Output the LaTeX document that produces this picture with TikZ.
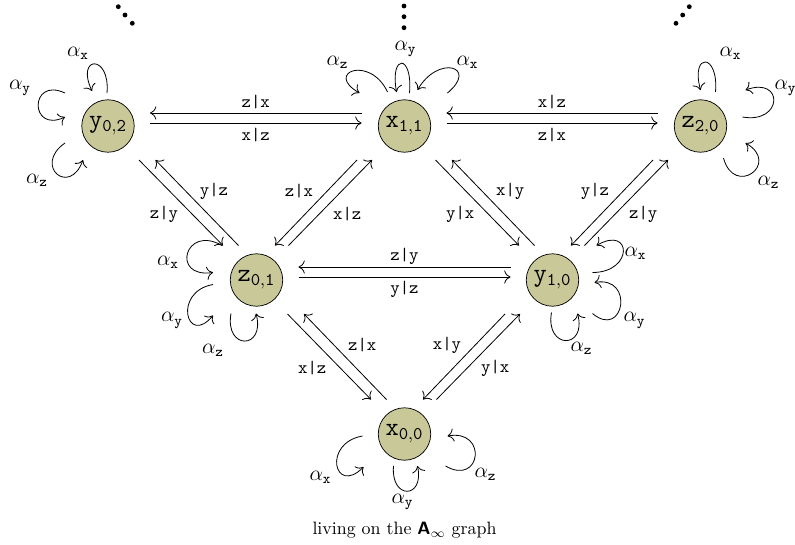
\documentclass[tikz,border=0pt]{standalone}
\usetikzlibrary{calc,arrows.meta}
\definecolor{nodefill}{RGB}{200,200,152}
\tikzset{
  vert/.style={circle, draw, fill=nodefill, minimum size=29.3pt, inner sep=0pt, font=\Large},
  arr/.style={-{To[scale=1.35]}, line width=0.45pt},
  lbl/.style={inner sep=0pt},
  alab/.style={inner sep=0pt, font=\large},
  dotmark/.style={fill=black},
}
\begin{document}
\begin{tikzpicture}[x=0.5587pt,y=0.5587pt]
\path[use as bounding box] (0,0) rectangle (795,-544);

% vertices
\node[vert] (y02) at (108,-126)   {$\mathtt{y}_{\mathtt{0,2}}$};
\node[vert] (x11) at (404.5,-126) {$\mathtt{x}_{\mathtt{1,1}}$};
\node[vert] (z20) at (700.5,-126) {$\mathtt{z}_{\mathtt{2,0}}$};
\node[vert] (z01) at (256.5,-280) {$\mathtt{z}_{\mathtt{0,1}}$};
\node[vert] (y10) at (552.5,-280) {$\mathtt{y}_{\mathtt{1,0}}$};
\node[vert] (x00) at (404.5,-434) {$\mathtt{x}_{\mathtt{0,0}}$};

% dots
\fill[dotmark] (118.3,-6.7) circle[radius=1.35pt] (125,-15) circle[radius=1.35pt] (132.3,-23.3) circle[radius=1.35pt];
\fill[dotmark] (404,-6) circle[radius=1.35pt] (404,-16.7) circle[radius=1.35pt] (404,-27.7) circle[radius=1.35pt];
\fill[dotmark] (689.3,-6.7) circle[radius=1.35pt] (682.7,-15) circle[radius=1.35pt] (676,-23.3) circle[radius=1.35pt];

% horizontal connectors
\draw[arr] ($(x11)+(-43,13)$) -- node[lbl,shift={(0,11)}]{\texttt{z|x}} ($(y02)+(42,13)$);
\draw[arr] ($(y02)+(42,3)$) -- node[lbl,shift={(0,-12)}]{\texttt{x|z}} ($(x11)+(-43,3)$);
\draw[arr] ($(z20)+(-43,13)$) -- node[lbl,shift={(0,11)}]{\texttt{x|z}} ($(x11)+(42,13)$);
\draw[arr] ($(x11)+(42,3)$) -- node[lbl,shift={(0,-12)}]{\texttt{z|x}} ($(z20)+(-43,3)$);
\draw[arr] ($(y10)+(-42,13)$) -- node[lbl,shift={(0,11)}]{\texttt{z|y}} ($(z01)+(42,13)$);
\draw[arr] ($(z01)+(42,3)$) -- node[lbl,shift={(0,-12)}]{\texttt{y|z}} ($(y10)+(-42,3)$);

% diagonal "\" connectors
\draw[arr] ($(y02)+(31,-34)$) -- node[lbl,shift={(-17,-11.5)}]{\texttt{z|y}} ($(z01)+(-33.5,34.5)$);
\draw[arr] ($(z01)+(-18,34.5)$) -- node[lbl,shift={(17,11.5)}]{\texttt{y|z}} ($(y02)+(47.5,-34)$);
\draw[arr] ($(x11)+(31,-34)$) -- node[lbl,shift={(-17,-11.5)}]{\texttt{y|x}} ($(y10)+(-33.5,34.5)$);
\draw[arr] ($(y10)+(-18,34.5)$) -- node[lbl,shift={(17,11.5)}]{\texttt{x|y}} ($(x11)+(47.5,-34)$);
\draw[arr] ($(z01)+(31,-34)$) -- node[lbl,shift={(-17,-11.5)}]{\texttt{x|z}} ($(x00)+(-33.5,34.5)$);
\draw[arr] ($(x00)+(-18,34.5)$) -- node[lbl,shift={(17,11.5)}]{\texttt{z|x}} ($(z01)+(47.5,-34)$);

% diagonal "/" connectors
\draw[arr] ($(x11)+(-47.5,-34)$) -- node[lbl,shift={(-17,11.5)}]{\texttt{z|x}} ($(z01)+(18.5,34.5)$);
\draw[arr] ($(z01)+(32,34.5)$) -- node[lbl,shift={(17,-11.5)}]{\texttt{x|z}} ($(x11)+(-32.5,-34)$);
\draw[arr] ($(z20)+(-47.5,-34)$) -- node[lbl,shift={(-17,11.5)}]{\texttt{y|z}} ($(y10)+(18.5,34.5)$);
\draw[arr] ($(y10)+(32,34.5)$) -- node[lbl,shift={(17,-11.5)}]{\texttt{z|y}} ($(z20)+(-32.5,-34)$);
\draw[arr] ($(y10)+(-47.5,-34)$) -- node[lbl,shift={(-17,11.5)}]{\texttt{x|y}} ($(x00)+(18.5,34.5)$);
\draw[arr] ($(x00)+(32,34.5)$) -- node[lbl,shift={(17,-11.5)}]{\texttt{y|x}} ($(y10)+(-32.5,-34)$);

% loops y02
\draw[arr] ($(y02)+(-1,33)$) to[out=85,in=115,distance=22pt] ($(y02)+(-16,35)$);
\node[alab] (y02ax) at ($(y02)+(-30,73)$) {$\alpha_{\mathtt{x}}$};
\draw[arr] ($(y02)+(-43,33)$) to[out=155,in=205,distance=22pt] ($(y02)+(-43,9)$);
\node[alab] (y02ay) at ($(y02)+(-88,38)$) {$\alpha_{\mathtt{y}}$};
\draw[arr] ($(y02)+(-43,-17)$) to[out=215,in=250,distance=22pt] ($(y02)+(-25,-34)$);
\node[alab] (y02az) at ($(y02)+(-71,-54)$) {$\alpha_{\mathtt{z}}$};

% loops x11
\draw[arr] ($(x11)+(-17,34)$) to[out=115,in=150,distance=23pt] ($(x11)+(-45,33)$);
\node[alab] (x11az) at ($(x11)+(-67,64)$) {$\alpha_{\mathtt{z}}$};
\draw[arr] ($(x11)+(5,33)$) to[out=85,in=100,distance=22pt] ($(x11)+(-8,34)$);
\node[alab] (x11ay) at ($(x11)+(1,77)$) {$\alpha_{\mathtt{y}}$};
\draw[arr] ($(x11)+(43,33)$) to[out=40,in=60,distance=23pt] ($(x11)+(13,36)$);
\node[alab] (x11ax) at ($(x11)+(63,64)$) {$\alpha_{\mathtt{x}}$};

% loops z20
\draw[arr] ($(z20)+(15,34)$) to[out=85,in=105,distance=22pt] ($(z20)+(0,36)$);
\node[alab] (z20ax) at ($(z20)+(30,73)$) {$\alpha_{\mathtt{x}}$};
\draw[arr] ($(z20)+(42,9)$) to[out=-10,in=20,distance=23pt] ($(z20)+(45,36)$);
\node[alab] (z20ay) at ($(z20)+(85,38)$) {$\alpha_{\mathtt{y}}$};
\draw[arr] ($(z20)+(23,-32)$) to[out=285,in=330,distance=23pt] ($(z20)+(45,-17)$);
\node[alab] (z20az) at ($(z20)+(68,-56)$) {$\alpha_{\mathtt{z}}$};

% loops z01
\draw[arr] ($(z01)+(-34.5,34.5)$) to[out=150,in=188,distance=24pt] ($(z01)+(-43.5,7.5)$);
\node[alab] (z01ax) at ($(z01)+(-88.5,17.5)$) {$\alpha_{\mathtt{x}}$};
\draw[arr] ($(z01)+(-43.5,-4.5)$) to[out=190,in=230,distance=23pt] ($(z01)+(-43.5,-35.5)$);
\node[alab] (z01ay) at ($(z01)+(-84.5,-40.5)$) {$\alpha_{\mathtt{y}}$};
\draw[arr] ($(z01)+(-25.5,-33.5)$) to[out=260,in=285,distance=21pt] ($(z01)+(-0.5,-33.5)$);
\node[alab] (z01az) at ($(z01)+(-43.5,-70.5)$) {$\alpha_{\mathtt{z}}$};

% loops y10
\draw[arr] ($(y10)+(40,7.5)$) to[out=0,in=30,distance=23pt] ($(y10)+(44,34.5)$);
\node[alab] (y10ax) at ($(y10)+(83,26.5)$) {$\alpha_{\mathtt{x}}$};
\draw[arr] ($(y10)+(40,-33.5)$) to[out=320,in=10,distance=23pt] ($(y10)+(42,-2.5)$);
\node[alab] (y10ay) at ($(y10)+(82,-40.5)$) {$\alpha_{\mathtt{y}}$};
\draw[arr] ($(y10)+(-1,-32.5)$) to[out=260,in=285,distance=21pt] ($(y10)+(25,-33.5)$);
\node[alab] (y10az) at ($(y10)+(29,-68.5)$) {$\alpha_{\mathtt{z}}$};

% loops x00
\draw[arr] ($(x00)+(-42,-2)$) to[out=190,in=225,distance=23pt] ($(x00)+(-41,-33)$);
\node[alab] (x00ax) at ($(x00)+(-84,-43)$) {$\alpha_{\mathtt{x}}$};
\draw[arr] ($(x00)+(-11,-32)$) to[out=265,in=282,distance=19pt] ($(x00)+(13,-32)$);
\node[alab] (x00ay) at ($(x00)+(-2,-68)$) {$\alpha_{\mathtt{y}}$};
\draw[arr] ($(x00)+(41,-32)$) to[out=330,in=10,distance=23pt] ($(x00)+(43,-2)$);
\node[alab] (x00az) at ($(x00)+(81,-40)$) {$\alpha_{\mathtt{z}}$};

% caption
\node (cap) at (404.5,-530) {living on the $\textsf{\textbf{A}}_\infty$ graph};
\end{tikzpicture}
\end{document}
